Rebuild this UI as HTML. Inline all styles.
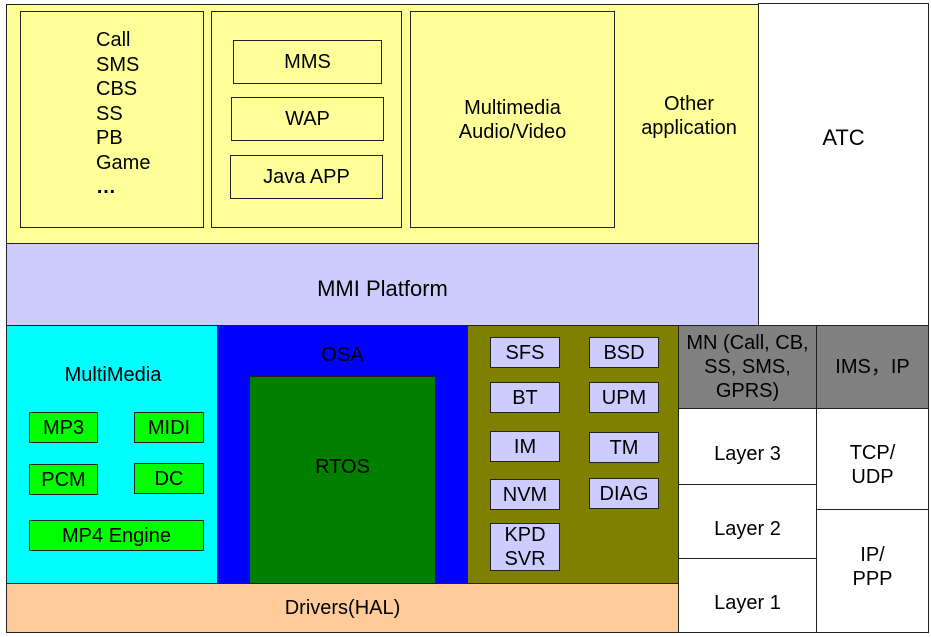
<!DOCTYPE html>
<html><head><meta charset="utf-8"><style>
body{margin:0;width:931px;height:637px;background:#fff;position:relative;overflow:hidden;font-family:"Liberation Sans",sans-serif;color:#000}
.b{position:absolute;box-sizing:border-box;border:1.5px solid #222;display:flex;align-items:center;justify-content:center;text-align:center;font-size:20px;line-height:24px}
.t{position:absolute;font-size:20px;line-height:24px;text-align:center}
.y{background:#ffff99}.l{background:#ccccff}.g{background:#00ff00}.gr{background:#808080}
</style></head><body>
<div class="b y" style="left:6px;top:4px;width:753px;height:240px"></div>
<div class="b" style="left:758px;top:3px;width:171px;height:323px;font-size:22px;align-items:flex-start;padding-top:122px">ATC</div>
<div class="b l" style="left:6px;top:243px;width:753px;height:83px;font-size:22px;padding-top:8px">MMI Platform</div>
<div class="b y" style="left:20px;top:11px;width:184px;height:217px"></div>
<div class="t" style="left:96px;top:28px;text-align:left;line-height:24.5px">Call<br>SMS<br>CBS<br>SS<br>PB<br>Game<br><b>…</b></div>
<div class="b y" style="left:211px;top:11px;width:191px;height:217px"></div>
<div class="b y" style="left:233px;top:40px;width:149px;height:44px">MMS</div>
<div class="b y" style="left:231px;top:97px;width:153px;height:44px">WAP</div>
<div class="b y" style="left:230px;top:155px;width:153px;height:44px">Java APP</div>
<div class="b y" style="left:410px;top:11px;width:205px;height:217px">Multimedia<br>Audio/Video</div>
<div class="t" style="left:620px;top:92px;width:138px">Other<br>application</div>

<div class="b" style="left:6px;top:325px;width:212px;height:260px;background:#00ffff"></div>
<div class="t" style="left:8px;top:363px;width:210px">MultiMedia</div>
<div class="b g" style="left:29px;top:412px;width:69px;height:31px">MP3</div>
<div class="b g" style="left:134px;top:412px;width:70px;height:31px">MIDI</div>
<div class="b g" style="left:29px;top:464px;width:69px;height:31px">PCM</div>
<div class="b g" style="left:134px;top:463px;width:70px;height:31px">DC</div>
<div class="b g" style="left:29px;top:520px;width:175px;height:31px">MP4 Engine</div>
<div class="b" style="left:217px;top:325px;width:252px;height:260px;background:#0000ff"></div>
<div class="t" style="left:217px;top:343px;width:251px">OSA</div>
<div class="b" style="left:249px;top:376px;width:187px;height:208px;background:#007f00;align-items:flex-start;padding-top:78px">RTOS</div>
<div class="b" style="left:467px;top:325px;width:212px;height:260px;background:#808000"></div>
<div class="b l" style="left:490px;top:337px;width:70px;height:31px">SFS</div>
<div class="b l" style="left:589px;top:337px;width:70px;height:31px">BSD</div>
<div class="b l" style="left:490px;top:382px;width:70px;height:31px">BT</div>
<div class="b l" style="left:589px;top:382px;width:70px;height:31px">UPM</div>
<div class="b l" style="left:490px;top:431px;width:70px;height:31px">IM</div>
<div class="b l" style="left:589px;top:432px;width:70px;height:31px">TM</div>
<div class="b l" style="left:490px;top:479px;width:70px;height:31px">NVM</div>
<div class="b l" style="left:589px;top:478px;width:70px;height:31px">DIAG</div>
<div class="b l" style="left:490px;top:523px;width:70px;height:48px">KPD<br>SVR</div>
<div class="b" style="left:6px;top:583px;width:673px;height:50px;background:#ffcc99">Drivers(HAL)</div>

<div class="b gr" style="left:678px;top:325px;width:139px;height:84px;line-height:24px">MN (Call, CB,<br>SS, SMS,<br>GPRS)</div>
<div class="b gr" style="left:816px;top:325px;width:113px;height:84px">IMS，IP</div>
<div class="b" style="left:678px;top:408px;width:139px;height:77px;padding-top:14px">Layer 3</div>
<div class="b" style="left:678px;top:484px;width:139px;height:75px;padding-top:14px">Layer 2</div>
<div class="b" style="left:678px;top:558px;width:139px;height:75px;padding-top:14px">Layer 1</div>
<div class="b" style="left:816px;top:408px;width:113px;height:102px;padding-top:12px">TCP/<br>UDP</div>
<div class="b" style="left:816px;top:509px;width:113px;height:124px;padding-bottom:8px">IP/<br>PPP</div>
</body></html>
